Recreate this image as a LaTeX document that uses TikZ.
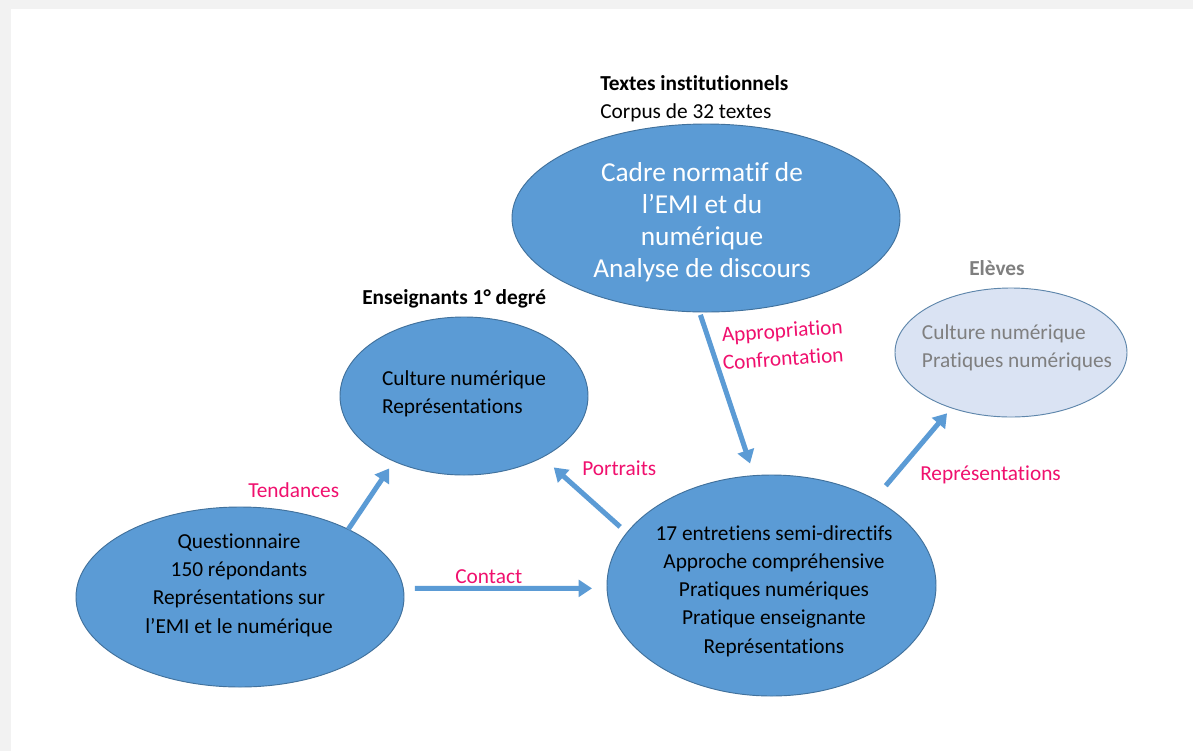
\documentclass[tikz,border=0pt]{standalone}
\usepackage{fontspec}
\setmainfont{Carlito}[Ligatures=NoCommon]
\usetikzlibrary{shapes.geometric,arrows.meta}
\definecolor{fillblue}{HTML}{5B9BD5}
\definecolor{edgeblue}{HTML}{41719C}
\definecolor{paleblue}{HTML}{DAE3F3}
\definecolor{pinklab}{HTML}{F0106E}
\definecolor{greytxt}{HTML}{7F7F7F}
\definecolor{bggrey}{HTML}{F2F2F2}
\begin{document}
\begin{tikzpicture}[x=0.75pt,y=-0.75pt,
  blob/.style={ellipse, draw=edgeblue, line width=0.7pt, fill=fillblue, inner sep=0pt, outer sep=0pt},
  paleblob/.style={blob, fill=paleblue, draw=edgeblue!85},
  body/.style={font=\fontsize{16}{21.2}\selectfont, inner sep=0pt, text=black},
  big/.style={font=\fontsize{20.5}{24}\selectfont, inner sep=0pt, text=white},
  plain/.style={font=\fontsize{16}{19}\selectfont, inner sep=0pt, anchor=base west},
  head/.style={font=\fontsize{16}{19}\selectfont\bfseries, inner sep=0pt, anchor=base west},
  lab/.style={font=\fontsize{16}{21}\selectfont, text=pinklab, inner sep=0pt, anchor=base west},
  arr/.style={draw=fillblue, line width=3.75pt, -{Triangle[width=12.5pt,length=10pt]}},
]
\useasboundingbox (0,0) rectangle (1193,751);
\fill[bggrey] (0,0) rectangle (1193,751);
\fill[white] (11,9) rectangle (1193,751);

% ellipses
\node[blob, minimum width=291pt, minimum height=141pt] (top) at (706,218) {};
\node[blob, minimum width=186pt, minimum height=118.5pt] (ens) at (464,396) {};
\node[blob, minimum width=246pt, minimum height=135pt] (q) at (240,597) {};
\node[blob, minimum width=246.75pt, minimum height=165.75pt] (br) at (771.5,585.5) {};
\node[paleblob, minimum width=174pt, minimum height=96.75pt] (el) at (1011,352.5) {};

% texts in ellipses
\node[big, align=center] (toptext) at (702,222) {Cadre normatif de\\l’EMI et du\\numérique\\Analyse de discours};
\node[body, align=left] (enstext) at (464,393.5) {Culture numérique\\Représentations};
\node[body, align=left, text=greytxt] (eltext) at (1017,347.5) {Culture numérique\\Pratiques numériques};
\node[body, align=center] (qtext) at (239,585) {Questionnaire\\150 répondants\\Représentations sur\\l’EMI et le numérique};
\node[body, align=center] (brtext) at (774,591) {17 entretiens semi-directifs\\Approche compréhensive\\Pratiques numériques\\Pratique enseignante\\Représentations};

% headings
\node[head] (titre) at (600,90) {Textes institutionnels};
\node[plain] (corpus) at (600,118) {Corpus de 32 textes};
\node[head] (enshead) at (362,304) {Enseignants 1° degré};
\node[head, text=greytxt] (elhead) at (969,275) {Elèves};

% arrows
\draw[arr, shorten >=6.5pt] (q.32) -- (ens.223);
\draw[arr, shorten <=6.8pt, shorten >=11.5pt] (br.160) -- (ens.322);
\draw[arr, shorten <=8.7pt, shorten >=11.3pt] (q.3) -- (br.181);
\draw[arr, shorten <=2.3pt, shorten >=9.6pt] (top.266) -- (br.99);
\draw[arr, shorten <=13.3pt, shorten >=5.3pt] (br.40) -- (el.223);

% labels
\node[lab] (tend) at (248,497) {Tendances};
\node[lab] (port) at (582,475) {Portraits};
\node[lab] (cont) at (455,583) {Contact};
\node[lab, rotate=4] (appr) at (722,342) {Appropriation};
\node[lab, rotate=4] (conf) at (723,370) {Confrontation};
\node[lab] (repr) at (920,480) {Représentations};
\end{tikzpicture}
\end{document}
